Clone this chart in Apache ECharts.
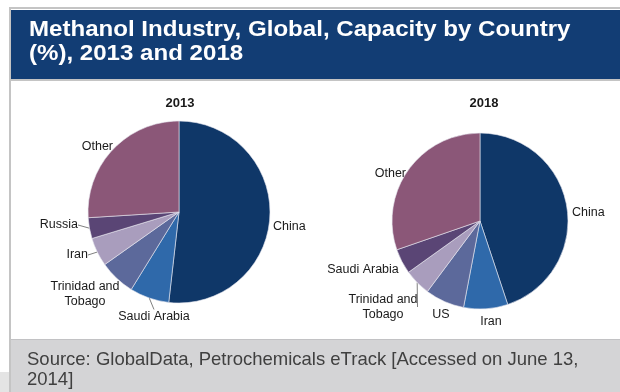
<!DOCTYPE html>
<html>
<head>
<meta charset="utf-8">
<script src="https://cdn.jsdelivr.net/npm/echarts@6/dist/echarts.min.js"></script>
<style>
html,body{margin:0;padding:0;background:#fff;}
#chart{width:620px;height:392px;}
</style>
</head>
<body>
<div id="chart"></div>
<script>
// ---- data ----
var categories2013 = ["China", "Saudi Arabia", "Trinidad and\nTobago", "Iran", "Russia", "Other"];
var values2013 = [51.8, 7.0, 6.4, 5.1, 3.7, 26.0];
var categories2018 = ["China", "Iran", "US", "Trinidad and\nTobago", "Saudi Arabia", "Other"];
var values2018 = [44.9, 8.1, 7.2, 4.9, 4.6, 30.3];
var chartTitle = "Methanol Industry, Global, Capacity by Country\n(%), 2013 and 2018";
var sourceText = "Source: GlobalData, Petrochemicals eTrack [Accessed on June 13,\n2014]";
var pieTitles = ["2013", "2018"];

// ---- styles ----
var sliceColors = ["#0F3768", "#2F69AA", "#5C699B", "#A99DBD", "#5A4575", "#8B5778"];
// label placement (x, y, align) per slice, per pie
var labelPos2013 = [
  [273, 227, "left"], [154, 317, "center"], [85, 294, "center"],
  [88, 255, "right"], [78, 225, "right"], [113, 147, "right"]
];
var labelPos2018 = [
  [572, 213, "left"], [491, 322, "center"], [441, 315, "center"],
  [383, 307, "center"], [363, 270, "center"], [406, 174, "right"]
];
var lineShow2013 = [false, true, false, true, true, false];
var lineShow2018 = [false, false, false, true, false, false];

function buildData(cats, vals, lines) {
  return cats.map(function (c, i) {
    return {
      name: c, value: vals[i],
      itemStyle: { color: sliceColors[i] },
      labelLine: { show: lines[i] }
    };
  });
}

function layoutFor(pos) {
  return function (p) {
    var q = pos[p.dataIndex];
    return { x: q[0], y: q[1], align: q[2], verticalAlign: "middle", hideOverlap: false, moveOverlap: null };
  };
}

var labelStyle = {
  show: true, position: "outside", formatter: "{b}",
  fontFamily: "Liberation Sans, Arial, sans-serif", fontSize: 12.5,
  color: "#1a1a1a", lineHeight: 15
};
var labelLineStyle = { length: 6, length2: 0, lineStyle: { color: "#808080", width: 1 } };

var chart = echarts.init(document.getElementById("chart"), null, { renderer: "canvas" });
chart.setOption({
  animation: false,
  backgroundColor: "#ffffff",
  graphic: [
    { type: "rect", z: -10, shape: { x: 9, y: 7, width: 611, height: 385 }, style: { fill: "#C4C4C4" } },
    { type: "rect", z: -9, shape: { x: 11, y: 9, width: 609, height: 383 }, style: { fill: "#ffffff" } },
    { type: "rect", z: -8, shape: { x: 11, y: 10, width: 609, height: 69 }, style: { fill: "#123D74" } },
    { type: "rect", z: -8, shape: { x: 11, y: 79, width: 609, height: 2 }, style: { fill: "#C4C4C4" } },
    { type: "rect", z: -8, shape: { x: 11, y: 339, width: 609, height: 53 }, style: { fill: "#D4D4D6" } },
    { type: "rect", z: -8, shape: { x: 11, y: 339, width: 609, height: 1 }, style: { fill: "#C2C2C4" } },
    { type: "rect", z: -8, shape: { x: 0, y: 372, width: 9, height: 20 }, style: { fill: "#E4E4E4" } },
    { type: "text", z: 5, x: 29, y: 18, scaleX: 1.08,
      style: { text: chartTitle, fill: "#ffffff", font: "bold 22.3px 'Liberation Sans', Arial, sans-serif", lineHeight: 24 } },
    { type: "text", z: 5, x: 27, y: 350,
      style: { text: sourceText, fill: "#404040", font: "18.5px 'Liberation Sans', Arial, sans-serif", lineHeight: 20 } }
  ],
  title: [
    { text: pieTitles[0], left: 175, top: 92, textAlign: "center",
      textStyle: { fontFamily: "Liberation Sans, Arial, sans-serif", fontWeight: "bold", fontSize: 13, color: "#1a1a1a" } },
    { text: pieTitles[1], left: 479, top: 92, textAlign: "center",
      textStyle: { fontFamily: "Liberation Sans, Arial, sans-serif", fontWeight: "bold", fontSize: 13, color: "#1a1a1a" } }
  ],
  series: [
    {
      type: "pie", center: [179, 212], radius: [0, 91], startAngle: 90, clockwise: true,
      avoidLabelOverlap: false, silent: true,
      itemStyle: { borderColor: "#E8E8F0", borderWidth: 0.6 },
      label: labelStyle, labelLine: labelLineStyle,
      labelLayout: layoutFor(labelPos2013),
      data: buildData(categories2013, values2013, lineShow2013)
    },
    {
      type: "pie", center: [480, 221], radius: [0, 88], startAngle: 90, clockwise: true,
      avoidLabelOverlap: false, silent: true,
      itemStyle: { borderColor: "#E8E8F0", borderWidth: 0.6 },
      label: labelStyle, labelLine: labelLineStyle,
      labelLayout: layoutFor(labelPos2018),
      data: buildData(categories2018, values2018, lineShow2018)
    }
  ]
});
</script>
</body>
</html>
